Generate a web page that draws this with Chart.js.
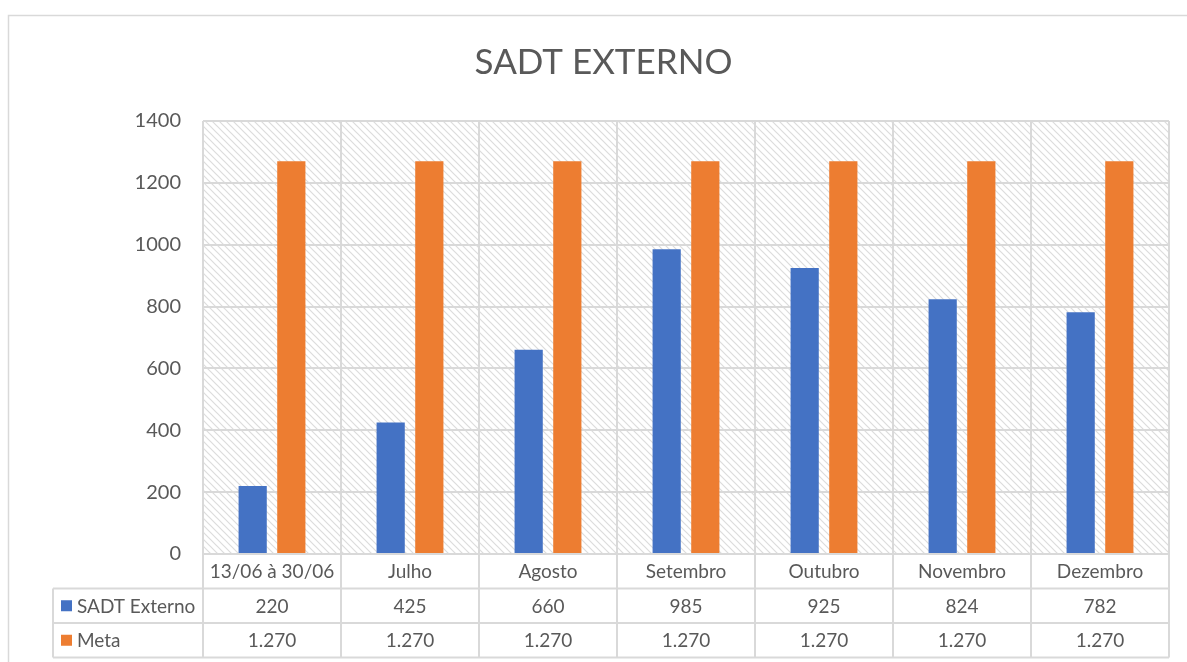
<!DOCTYPE html>
<html>
<head>
<meta charset="utf-8">
<script src="https://cdn.jsdelivr.net/npm/chart.js@4.4.0/dist/chart.umd.min.js"></script>
<style>
  html, body { margin: 0; padding: 0; background: #fff; }
  #wrap { width: 1187px; height: 662px; position: relative; }
</style>
</head>
<body>
<div id="wrap"><canvas id="sadtChart"></canvas></div>
<script>
const categories = ["13/06 à 30/06", "Julho", "Agosto", "Setembro", "Outubro", "Novembro", "Dezembro"];
const sadtExterno = [220, 425, 660, 985, 925, 824, 782];
const meta = [1270, 1270, 1270, 1270, 1270, 1270, 1270];
const yTicks = [0, 200, 400, 600, 800, 1000, 1200, 1400];

const FONT = "Lato, 'Open Sans', sans-serif";
const TEXT = "#595959";
const LINE = "#d9d9d9";

// 1.270 style (pt-BR thousands)
function fmt(v) {
  if (v < 1000) return String(v);
  return Math.floor(v / 1000) + "." + String(v % 1000).padStart(3, "0");
}

function hatch() {
  const c = document.createElement("canvas");
  c.width = 7;
  c.height = 7;
  const g = c.getContext("2d");
  g.strokeStyle = "#dcdcdc";
  g.lineWidth = 1.2;
  g.beginPath();
  g.moveTo(-1, -1); g.lineTo(8, 8);
  g.moveTo(-1, 6); g.lineTo(1, 8);
  g.moveTo(6, -1); g.lineTo(8, 1);
  g.stroke();
  return g.createPattern(c, "repeat");
}

// background hatch + outer frame
const backdrop = {
  id: "backdrop",
  beforeDraw(chart) {
    const { ctx, chartArea: a } = chart;
    ctx.save();
    ctx.strokeStyle = LINE;
    ctx.lineWidth = 1.5;
    ctx.strokeRect(8.5, 15.5, 1300, 800);
    ctx.fillStyle = hatch();
    ctx.fillRect(a.left, a.top, a.right - a.left, a.bottom - a.top);
    ctx.restore();
  },
};

// data table under the plot
const dataTable = {
  id: "dataTable",
  afterDraw(chart) {
    const { ctx, chartArea: a, scales } = chart;
    const x = scales.x;
    const w = (a.right - a.left) / categories.length;
    const rowH = 34.5;
    const r0 = a.bottom, r1 = r0 + rowH, r2 = r1 + rowH, r3 = r2 + rowH;
    const legLeft = 53;
    ctx.save();
    ctx.strokeStyle = LINE;
    ctx.lineWidth = 2;
    ctx.beginPath();
    [r1, r2, r3].forEach(y => { ctx.moveTo(legLeft, y); ctx.lineTo(a.right, y); });
    ctx.moveTo(legLeft, r1); ctx.lineTo(legLeft, r3);
    for (let i = 0; i <= categories.length; i++) {
      const xx = a.left + i * w;
      ctx.moveTo(xx, r0); ctx.lineTo(xx, r3);
    }
    ctx.stroke();

    ctx.font = "19px " + FONT;
    ctx.fillStyle = TEXT;
    ctx.textAlign = "center";
    ctx.textBaseline = "middle";
    categories.forEach((c, i) => {
      const cx = x.getPixelForValue(i);
      ctx.fillText(c, cx, (r0 + r1) / 2 + 1);
      ctx.fillText(fmt(sadtExterno[i]), cx, (r1 + r2) / 2 + 1);
      ctx.fillText(fmt(meta[i]), cx, (r2 + r3) / 2 + 1);
    });

    chart.data.datasets.forEach((ds, j) => {
      const cy = j === 0 ? (r1 + r2) / 2 : (r2 + r3) / 2;
      ctx.fillStyle = ds.backgroundColor;
      ctx.fillRect(61, cy - 5.5, 11, 11);
      ctx.fillStyle = TEXT;
      ctx.textAlign = "left";
      ctx.fillText(ds.label, 77, cy + 1);
    });
    ctx.restore();
  },
};

new Chart(document.getElementById("sadtChart").getContext("2d"), {
  type: "bar",
  data: {
    labels: categories,
    datasets: [
      {
        label: "SADT Externo",
        data: sadtExterno,
        backgroundColor: "#4472C4",
        categoryPercentage: 0.56,
        barPercentage: 0.73,
      },
      {
        label: "Meta",
        data: meta,
        backgroundColor: "#ED7D31",
        categoryPercentage: 0.56,
        barPercentage: 0.73,
      },
    ],
  },
  options: {
    responsive: true,
    maintainAspectRatio: false,
    animation: false,
    layout: {
      padding: { top: 0, right: 18, bottom: 108, left: 38 },
    },
    scales: {
      x: {
        grid: { offset: true, color: LINE, lineWidth: 2, drawTicks: false },
        border: { color: LINE, width: 2 },
        ticks: { display: false },
      },
      y: {
        min: 0,
        max: 1400,
        afterBuildTicks: (s) => { s.ticks = yTicks.map(v => ({ value: v })); },
        afterFit: (s) => { s.width = 165; },
        grid: { color: LINE, lineWidth: 2, drawTicks: false },
        border: { display: false },
        ticks: {
          padding: 22,
          color: TEXT,
          font: { family: FONT, size: 20 },
          callback: (v) => String(v),
        },
      },
    },
    plugins: {
      legend: { display: false },
      tooltip: { enabled: false },
      title: {
        display: true,
        text: "SADT EXTERNO",
        color: TEXT,
        font: { family: FONT, size: 35, weight: "normal" },
        padding: { top: 42, bottom: 37 },
      },
    },
  },
  plugins: [backdrop, dataTable],
});
</script>
</body>
</html>
